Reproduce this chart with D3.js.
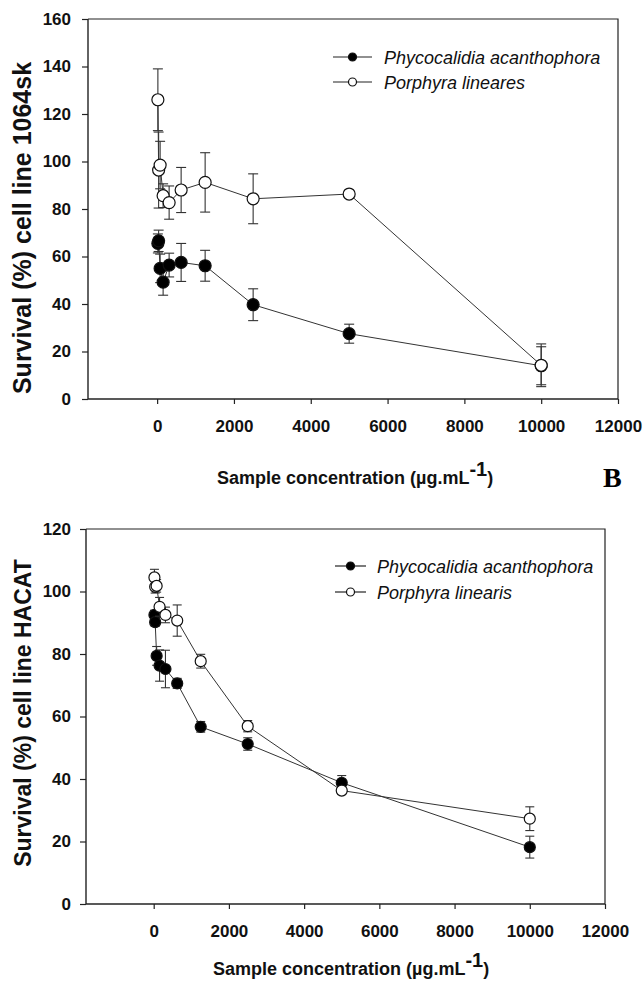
<!DOCTYPE html>
<html><head><meta charset="utf-8">
<script src="https://cdn.jsdelivr.net/npm/d3@7"></script>
<style>
html,body{margin:0;padding:0;background:#fff;}
svg{display:block;}
</style></head>
<body>
<svg id="chart" width="644" height="984"></svg>
<script>
// ---------- DATA ----------
const xTicks = [0, 2000, 4000, 6000, 8000, 10000, 12000];
const yTicksTop = [0, 20, 40, 60, 80, 100, 120, 140, 160];
const yTicksBottom = [0, 20, 40, 60, 80, 100, 120];

const concTop = [19.5, 39, 78, 156, 312.5, 625, 1250, 2500, 5000, 10000];
const phycoTop = [65.5, 66.6, 55, 49.2, 56.4, 57.5, 56.1, 39.7, 27.5, 14];
const phycoTopErr = [4, 4.5, 6, 5.5, 5, 8, 6.5, 6.7, 4, 8];
const porphTop = [126, 96.4, 98.5, 85.6, 82.7, 88, 91.2, 84.3, 86.3, 14.2];
const porphTopErr = [13, 16, 10, 5, 7, 9.5, 12.5, 10.5, 1, 9];

const concBottom = [19.5, 39, 78, 156, 312.5, 625, 1250, 2500, 5000, 10000];
const phycoBottom = [92.5, 90.2, 79.4, 76.3, 75.2, 70.6, 56.7, 51.2, 38.8, 18.2];
const phycoBottomErr = [1.5, 1.3, 3, 5, 6, 1.6, 1.7, 2, 2.3, 3.5];
const porphBottom = [104.5, 101.5, 101.8, 95.1, 92.5, 90.7, 77.7, 56.9, 36.3, 27.3];
const porphBottomErr = [2.6, 2, 2, 3, 2.5, 5, 2.2, 1.8, 1, 3.8];

const legendTop = ["Phycocalidia acanthophora", "Porphyra lineares"];
const legendBottom = ["Phycocalidia acanthophora", "Porphyra linearis"];
const yTitleTop = "Survival (%) cell line 1064sk";
const yTitleBottom = "Survival (%) cell line HACAT";
const xTitleMain = "Sample concentration (µg.mL";
const xTitleSup = "-1";
const xTitleEnd = ")";
const panelLabel = "B";

// ---------- DRAW ----------
const svg = d3.select("#chart");
const FONT = "'Liberation Sans', Arial, sans-serif";

function panel(cfg) {
  const g = svg.append("g");
  const x = d3.scaleLinear().domain([-1800, 12000]).range([cfg.left, cfg.right]);
  const y = d3.scaleLinear().domain([0, cfg.yMax]).range([cfg.bottom, cfg.top]);

  // frame (top and right)
  g.append("path")
    .attr("d", `M${cfg.left},${cfg.top}H${cfg.right}V${cfg.bottom}`)
    .attr("fill", "none").attr("stroke", "#222").attr("stroke-width", 1.2);

  const xa = g.append("g").attr("transform", `translate(0,${cfg.bottom})`)
    .call(d3.axisBottom(x).tickValues(xTicks).tickSize(5).tickPadding(cfg.xPad).tickSizeOuter(0).tickFormat(d3.format("d")));
  const ya = g.append("g").attr("transform", `translate(${cfg.left},0)`)
    .call(d3.axisLeft(y).tickValues(cfg.yTicks).tickSize(6).tickPadding(cfg.yPad).tickSizeOuter(0));
  [xa, ya].forEach(a => {
    a.select(".domain").attr("stroke", "#222").attr("stroke-width", 1.4);
    a.selectAll(".tick line").attr("stroke", "#222").attr("stroke-width", 1.2);
    a.selectAll(".tick text").attr("font-family", FONT).attr("font-weight", "bold")
      .attr("font-size", 17).attr("fill", "#111");
  });
  xa.select(".domain").attr("d", `M${cfg.left},0H${cfg.right}`);
  ya.select(".domain").attr("d", `M0,${cfg.top}V${cfg.bottom}`);

  // series
  cfg.series.forEach(s => {
    const pts = s.conc.map((c, i) => ({ c, v: s.vals[i], e: s.errs[i] }));
    g.append("path").datum(pts)
      .attr("d", d3.line().x(d => x(d.c)).y(d => y(d.v)))
      .attr("fill", "none").attr("stroke", "#333").attr("stroke-width", 1);
    const eb = g.append("g").attr("stroke", "#333").attr("stroke-width", 1.1);
    pts.forEach(d => {
      const cx = x(d.c), y1 = y(d.v + d.e), y2 = y(d.v - d.e);
      eb.append("line").attr("x1", cx).attr("x2", cx).attr("y1", y1).attr("y2", y2);
      eb.append("line").attr("x1", cx - cfg.cap).attr("x2", cx + cfg.cap).attr("y1", y1).attr("y2", y1);
      eb.append("line").attr("x1", cx - cfg.cap).attr("x2", cx + cfg.cap).attr("y1", y2).attr("y2", y2);
    });
    g.append("g").selectAll("circle").data(pts).join("circle")
      .attr("cx", d => x(d.c)).attr("cy", d => y(d.v)).attr("r", cfg.r)
      .attr("fill", s.fill).attr("stroke", "#111").attr("stroke-width", 1.2);
  });

  // legend
  cfg.legend.forEach((t, i) => {
    const ly = cfg.legY + i * cfg.legDy;
    g.append("line").attr("x1", cfg.legX1).attr("x2", cfg.legX2).attr("y1", ly).attr("y2", ly)
      .attr("stroke", "#222").attr("stroke-width", 1.2);
    g.append("circle").attr("cx", (cfg.legX1 + cfg.legX2) / 2).attr("cy", ly).attr("r", 4)
      .attr("fill", i === 0 ? "#000" : "#fff").attr("stroke", "#111").attr("stroke-width", 1.2);
    g.append("text").attr("x", cfg.legTX).attr("y", ly + 6.5).text(t)
      .attr("font-family", FONT).attr("font-style", "italic").attr("font-size", 18).attr("fill", "#111");
  });

  // y title
  g.append("text").attr("transform", `translate(${cfg.yTitleX},${cfg.yTitleY}) rotate(-90)`)
    .attr("text-anchor", "middle").attr("font-family", FONT).attr("font-weight", "bold")
    .attr("font-size", cfg.yTitleSize).attr("fill", "#111").text(cfg.yTitle);

  // x title
  const xt = g.append("text").attr("x", cfg.xTitleX).attr("y", cfg.xTitleY)
    .attr("font-family", FONT).attr("font-weight", "bold").attr("font-size", 18).attr("fill", "#111");
  xt.append("tspan").text(xTitleMain);
  xt.append("tspan").attr("dy", -8).attr("font-size", 20).text(xTitleSup);
  xt.append("tspan").attr("dy", 8).text(xTitleEnd);
  return { x, y };
}

panel({
  left: 88, right: 618, top: 19, bottom: 399, yMax: 160, yTicks: yTicksTop,
  xPad: 16, yPad: 11, r: 6, cap: 5,
  series: [
    { conc: concTop, vals: phycoTop, errs: phycoTopErr, fill: "#000" },
    { conc: concTop, vals: porphTop, errs: porphTopErr, fill: "#fff" }
  ],
  legend: legendTop, legY: 57, legDy: 25, legX1: 333, legX2: 372, legTX: 384,
  yTitle: yTitleTop, yTitleX: 31, yTitleY: 228, yTitleSize: 25,
  xTitleX: 217, xTitleY: 484
});

panel({
  left: 86, right: 605, top: 529, bottom: 904, yMax: 120, yTicks: yTicksBottom,
  xPad: 16, yPad: 9, r: 5.5, cap: 4.5,
  series: [
    { conc: concBottom, vals: phycoBottom, errs: phycoBottomErr, fill: "#000" },
    { conc: concBottom, vals: porphBottom, errs: porphBottomErr, fill: "#fff" }
  ],
  legend: legendBottom, legY: 566, legDy: 26, legX1: 335, legX2: 366, legTX: 377,
  yTitle: yTitleBottom, yTitleX: 31, yTitleY: 713, yTitleSize: 23,
  xTitleX: 213, xTitleY: 975
});

svg.append("text").attr("x", 603).attr("y", 487)
  .attr("font-family", "'Liberation Serif', 'Times New Roman', serif").attr("font-weight", "bold")
  .attr("font-size", 28).attr("fill", "#000").text(panelLabel);
</script>
</body></html>
